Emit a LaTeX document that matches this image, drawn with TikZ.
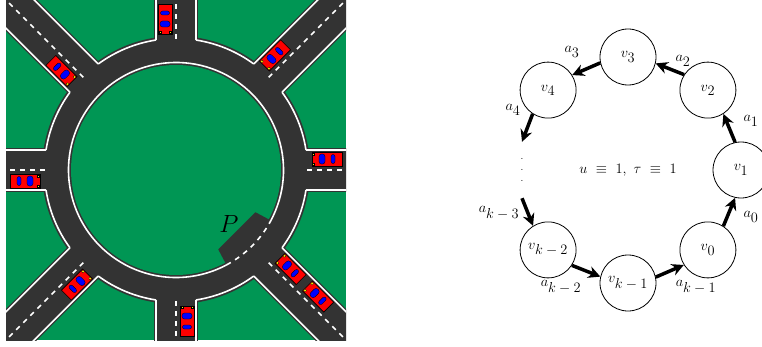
\documentclass[tikz,border=0pt]{standalone}
\usepackage{amsmath, amssymb}
\usetikzlibrary{arrows.meta}

\definecolor{grass}{RGB}{0,150,84}
\definecolor{asphalt}{RGB}{51,51,51}

\newcommand{\vlab}[1]{$v_{\textstyle #1}$}
\newcommand{\alab}[1]{$a_{\textstyle #1}$}
\newcommand{\carbody}{
  \filldraw[fill=red, draw=black, line width=0.6pt] (-15,-7) rectangle (15,7);
  \filldraw[fill=blue, draw=black, line width=0.3pt, rounded corners=2pt] (-8,-4.5) rectangle (-4,4.5);
  \filldraw[fill=blue, draw=black, line width=0.3pt, rounded corners=2.5pt] (2,-5) rectangle (8,5);
  \filldraw[fill=yellow, draw=black, line width=0.2pt] (12.5,4) rectangle (14.5,6) (12.5,-6) rectangle (14.5,-4);
}

\tikzset{
  curb/.style={white, line width=1.6pt},
  lane/.style={white, line width=1.6pt, dash pattern=on 5pt off 5pt},
  vert/.style={draw, circle, line width=0.8pt, minimum size=56pt, inner sep=0pt, font=\fontsize{14}{16}\selectfont},
  lbl/.style={font=\fontsize{14}{16}\selectfont, inner sep=0pt},
  arr/.style={line width=3.5pt, -{Stealth[length=12pt,width=12pt]}}
}

\begin{document}
\begin{tikzpicture}[x=1pt, y=1pt]

      \useasboundingbox (0,0) rectangle (762,346);

      \begin{scope}[shift={(176,176)}]
        \clip (-170,-170) rectangle (170,170);
        \fill[grass] (-170,-170) rectangle (170,170);

        \fill[asphalt] (0,0) circle[radius=134];
        \foreach \t in {0,45,...,315}
          \fill[asphalt, rotate=\t] (0,-22) rectangle (260,22);
        \fill[grass] (0,0) circle[radius=105];
        \fill[asphalt] (-28:90) -- (-62:90) -- (-62:112) -- (-28:112) -- cycle;

        \foreach \t in {0,45,...,315} {
          \draw[curb, rotate=\t] (130,20) -- (260,20) (130,-20) -- (260,-20);
          \draw[curb] (\t+8.75:131.5) arc[start angle=\t+8.75, end angle=\t+36.25, radius=131.5];
          \draw[lane, rotate=\t] (131,0) -- (250,0);
        }
        \draw[curb] (-28:107.5) arc[start angle=-28, end angle=298, radius=107.5];
        \draw[lane] (-62:107.5) arc[start angle=-62, end angle=-28, radius=107.5];

        \foreach \t in {0,45,...,315} {
          \begin{scope}[rotate=\t, shift={(151,11)}, rotate=180]
            \carbody
          \end{scope}
        }
        \begin{scope}[rotate=-45, shift={(190,11)}, rotate=180]
          \carbody
        \end{scope}

        \node[font=\fontsize{26}{30}\selectfont] (P) at (53,-54) {$P$};
      \end{scope}

      \begin{scope}[shift={(628,176)}]
        \node[vert] (v0) at (-45:113) {\vlab{0}};
        \node[vert] (v1) at (0:113) {\vlab{1}};
        \node[vert] (v2) at (45:113) {\vlab{2}};
        \node[vert] (v3) at (90:113) {\vlab{3}};
        \node[vert] (v4) at (135:113) {\vlab{4}};
        \node[minimum height=56pt, inner sep=0pt] (dots) at (-106,0) {\vbox{\baselineskip=11pt\hbox{.}\hbox{.}\hbox{.}}};
        \node[vert] (vk2) at (225:113) {\vlab{k-2}};
        \node[vert] (vk1) at (270:113) {\vlab{k-1}};

        \draw[arr] (v0.57) -- (v1.258);
        \draw[arr] (v1.102) -- (v2.303);
        \draw[arr] (v2.147) -- (v3.347);
        \draw[arr] (v3.192) -- (v4.32);
        \draw[arr] (v4.237) -- (dots.north);
        \draw[arr] (dots.south) -- (vk2.122);
        \draw[arr] (vk2.327) -- (vk1.167);
        \draw[arr] (vk1.12) -- (v0.212);

        \node[lbl] (a0) at (123,-47) {\alab{0}};
        \node[lbl] (a1) at (123,49) {\alab{1}};
        \node[lbl] (a2) at (55,109) {\alab{2}};
        \node[lbl] (a3) at (-56,118) {\alab{3}};
        \node[lbl] (a4) at (-115,60) {\alab{4}};
        \node[lbl] (ak3) at (-129,-43) {\alab{k-3}};
        \node[lbl] (ak2) at (-67,-117) {\alab{k-2}};
        \node[lbl] (ak1) at (68,-117) {\alab{k-1}};

        \node[lbl] (eq) at (0,0) {$u\ \equiv\ 1,\ \tau\ \equiv\ 1$};
      \end{scope}

    \end{tikzpicture}
\end{document}
